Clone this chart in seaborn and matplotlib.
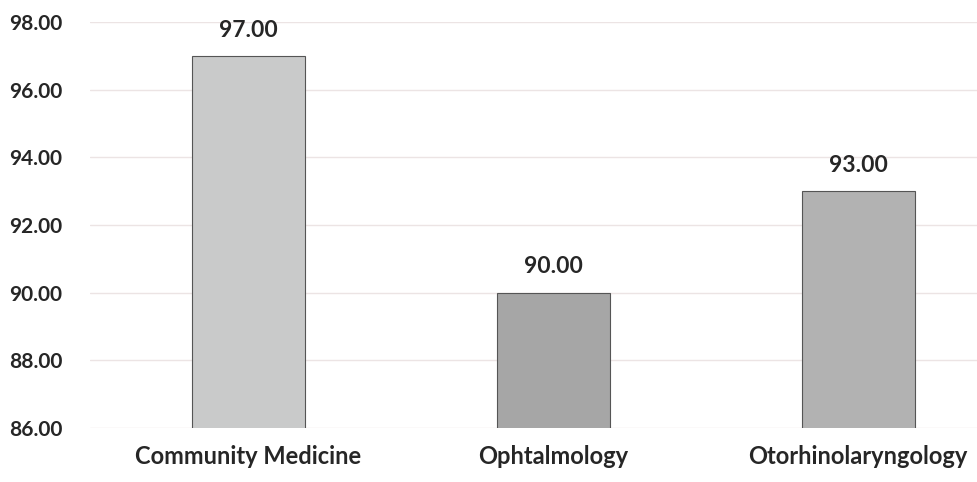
import matplotlib
matplotlib.use("Agg")
import matplotlib.pyplot as plt
import seaborn as sns
import pandas as pd

departments = ["Community Medicine", "Ophtalmology", "Otorhinolaryngology"]
scores = [97.00, 90.00, 93.00]
bar_colors = ["#c9caca", "#a6a6a6", "#b2b2b2"]
y_ticks = [86, 88, 90, 92, 94, 96, 98]

df = pd.DataFrame({"Department": departments, "Score": scores})

sns.set_style("white")
plt.rcParams["font.family"] = ["Lato", "DejaVu Sans"]

fig = plt.figure(figsize=(9.77, 4.82), dpi=100)
ax = fig.add_axes([0.092, 0.112, 0.908, 0.842])

sns.barplot(data=df, x="Department", y="Score", hue="Department",
            palette=bar_colors, width=0.37, edgecolor="#555555",
            linewidth=0.8, legend=False, ax=ax, zorder=2)

ax.set_ylim(86, 98)
ax.set_xlim(-0.52, 2.39)
ax.set_yticks(y_ticks)
ax.set_yticklabels([f"{t:.2f}" for t in y_ticks])
ax.yaxis.grid(True, color="#ece4e4", linewidth=1.0, zorder=0)
ax.set_axisbelow(True)
ax.set_xlabel("")
ax.set_ylabel("")
for s in ax.spines.values():
    s.set_visible(False)

ax.tick_params(axis="y", length=0, pad=20, labelsize=15)
ax.tick_params(axis="x", length=0, pad=12, labelsize=17)
for lbl in ax.get_yticklabels() + ax.get_xticklabels():
    lbl.set_fontweight("bold")

for i, v in enumerate(scores):
    ax.annotate(f"{v:.2f}", (i, v), xytext=(0, 11), textcoords="offset points",
                ha="center", va="bottom", fontsize=16.5, fontweight="bold",
                annotation_clip=False)

fig.savefig("out.png", dpi=100)
